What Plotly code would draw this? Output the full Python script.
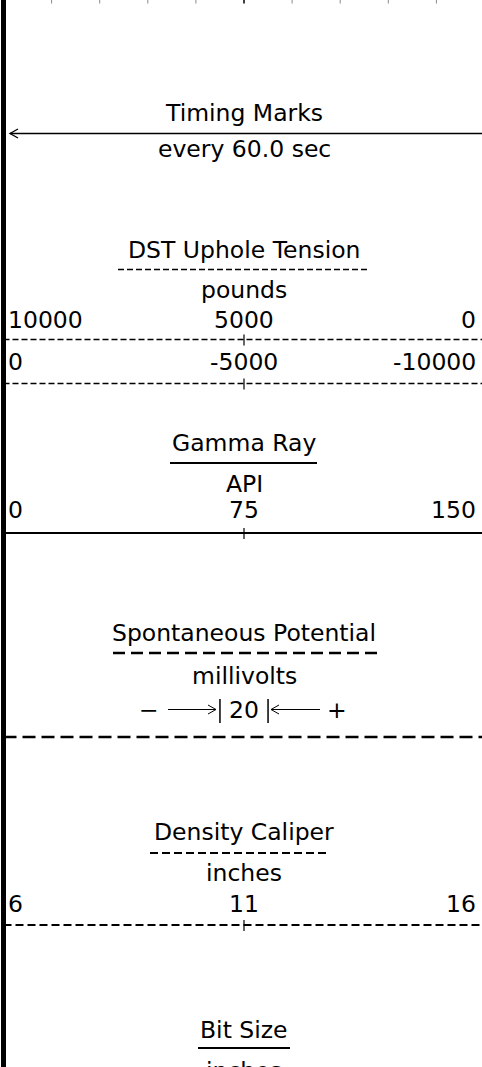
import plotly.graph_objects as go

# ---- header content -------------------------------------------------------
timing_title = "Timing Marks"
timing_interval_sec = 60.0

track_names = ["DST Uphole Tension", "Gamma Ray", "Spontaneous Potential",
               "Density Caliper", "Bit Size"]
track_units = ["pounds", "API", "millivolts", "inches", "inches"]

dst_scale_a = [10000, 5000, 0]
dst_scale_b = [0, -5000, -10000]
gr_scale = [0, 75, 150]
sp_span_mv = 20
cali_scale = [6, 11, 16]

# ---- track geometry (10 grid divisions across the track) -------------------
W, H = 482, 1067
N_DIV = 10
DIV_PX = 48.1
ORIGIN_PX = 3.5


def px2u(p):
    return (p - ORIGIN_PX) / DIV_PX


def scale_pos(v, scale):
    """Position of value v on a left->right linear scale, in division units."""
    left, right = scale[0], scale[-1]
    return N_DIV * (v - left) / (right - left)


FONT = dict(family="DejaVu Sans", size=23.5, color="black")
MID = N_DIV / 2
U_RIGHT = px2u(W)  # visible right edge of the track

shapes = []
annotations = []


def line(x0, x1, y0, y1, width=1.0, dash="solid", color="black"):
    shapes.append(dict(type="line", xref="x", yref="y", x0=x0, x1=x1, y0=y0, y1=y1,
                       line=dict(color=color, width=width, dash=dash)))


def path(pts, width=1.0):
    d = "M " + " L ".join(f"{x},{y}" for x, y in pts)
    shapes.append(dict(type="path", xref="x", yref="y", path=d,
                       line=dict(color="black", width=width)))


def text(x, y, s, anchor="center", xshift=0, yshift=0):
    annotations.append(dict(x=x, y=y, xref="x", yref="y", text=s, showarrow=False,
                            xanchor=anchor, yanchor="middle", font=FONT,
                            borderpad=0, borderwidth=0, xshift=xshift, yshift=yshift))


def scale_row(scale, y):
    for v in scale:
        u = scale_pos(v, scale)
        if u <= 0:
            text(u, y, str(v), "left", 4)
        elif u >= N_DIV:
            # right end of the scale sits just past the visible edge
            text(U_RIGHT, y, str(v), "right", -6)
        else:
            text(u, y, str(v), "center")


def scale_line(y, width, dash, tick=True):
    line(px2u(3.5), U_RIGHT, y, y, width, dash)
    if tick:
        line(MID, MID, y - 5, y + 6, 1.2)


def title(name, y, ul_y, ul_x0, ul_x1, ul_width, ul_dash):
    text(MID, y, name)
    line(px2u(ul_x0), px2u(ul_x1), ul_y, ul_y, ul_width, ul_dash)


# grid ticks at the top edge (continuation of the log grid above)
for k in range(1, N_DIV):
    centre = k == MID
    line(k, k, 0, 3.5, 1.5 if centre else 1.0, "solid",
         "black" if centre else "#8a8a8a")

# heavy left border of the track
line(0, 0, 0, H, 5)

# timing marks
text(MID, 113, timing_title)
line(px2u(10), U_RIGHT, 133.5, 133.5, 1.3)
path([(px2u(18), 129), (px2u(10), 133.5), (px2u(18), 138)], 1.3)
text(MID, 149, f"every {timing_interval_sec:.1f} sec")

# DST uphole tension (two wrap-around scales)
title(track_names[0], 249.5, 269.5, 118, 367, 1.3, "6px,3px")
text(MID, 290, track_units[0])
scale_row(dst_scale_a, 319.5)
scale_line(339.5, 1.3, "6px,3px")
scale_row(dst_scale_b, 362)
scale_line(383.5, 1.3, "6px,3px")

# gamma ray
title(track_names[1], 443, 463, 170, 317, 2.2, "solid")
text(MID, 484, track_units[1])
scale_row(gr_scale, 510)
scale_line(533, 2.2, "solid")

# spontaneous potential: span of one division
title(track_names[2], 633, 653, 113, 377, 2.6, "12px,6px")
text(MID, 676, track_units[2])
y_sp = 709.5
text(px2u(149), y_sp, "\u2212")
text(px2u(337), y_sp, "+")
text(MID, y_sp, str(sp_span_mv))
bar_l, bar_r = MID - 0.5, MID + 0.5
line(bar_l, bar_l, 699, 723, 1.5)
line(bar_r, bar_r, 699, 723, 1.5)
# arrows pointing inward at the span bars
line(px2u(168), px2u(216), y_sp, y_sp, 1.0)
path([(px2u(208), y_sp - 4.5), (px2u(216), y_sp), (px2u(208), y_sp + 4.5)], 1.0)
line(px2u(271), px2u(320), y_sp, y_sp, 1.0)
path([(px2u(279), y_sp - 4.5), (px2u(271), y_sp), (px2u(279), y_sp + 4.5)], 1.0)
line(px2u(3.5), U_RIGHT, 737, 737, 2.6, "13px,6px")

# density caliper
title(track_names[3], 832, 853, 150, 330, 2.2, "8px,4px")
text(MID, 873, track_units[3])
scale_row(cali_scale, 904)
scale_line(925, 2.2, "8px,4px")

# bit size
title(track_names[4], 1030, 1048, 198, 290, 2.2, "solid")
text(MID, H - 1, track_units[4], yshift=-5)

fig = go.Figure()
fig.add_trace(go.Scatter(x=[], y=[], mode="lines", showlegend=False, hoverinfo="skip"))
fig.update_layout(
    width=W, height=H,
    margin=dict(l=0, r=0, t=0, b=0),
    paper_bgcolor="white", plot_bgcolor="white",
    showlegend=False,
    shapes=shapes, annotations=annotations,
    xaxis=dict(range=[px2u(0), U_RIGHT], visible=False, fixedrange=True),
    yaxis=dict(range=[H, 0], visible=False, fixedrange=True),
)
fig.write_html("out.html")
